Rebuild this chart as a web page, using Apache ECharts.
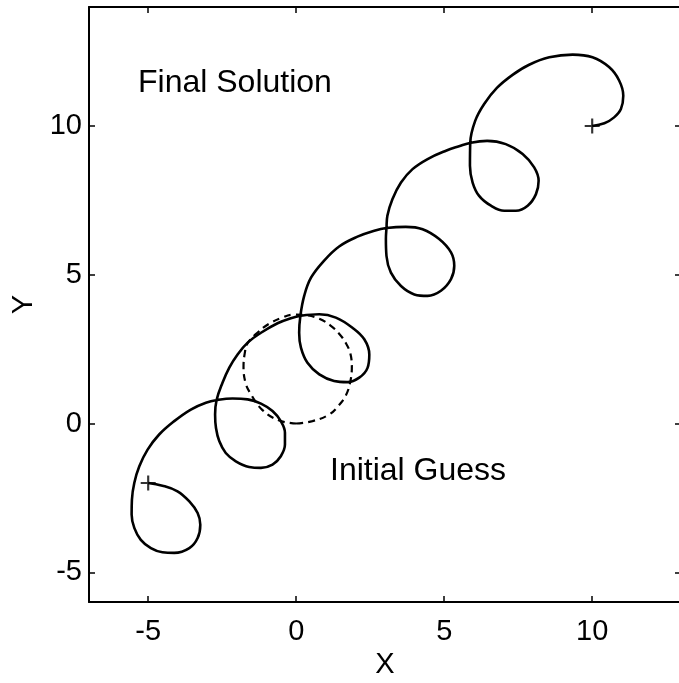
<!DOCTYPE html>
<html>
<head>
<meta charset="utf-8">
<script src="https://cdn.jsdelivr.net/npm/echarts@6/dist/echarts.min.js"></script>
<style>
html,body{margin:0;padding:0;background:#fff;}
#chart{width:679px;height:683px;}
</style>
</head>
<body>
<div id="chart"></div>
<script>
// Tick values
const xTicks = [-5, 0, 5, 10];
const yTicks = [-5, 0, 5, 10];

// Final solution trajectory
const finalX = [-5.00,-4.52,-4.01,-3.61,-3.33,-3.24,-3.33,-3.61,-4.12,-4.52,-4.91,-5.25,-5.47,-5.56,-5.55,-5.47,-5.30,-5.02,-4.63,-4.12,
  -3.56,-3.05,-2.66,-2.15,-1.64,-1.19,-0.80,-0.52,-0.38,-0.38,-0.52,-0.80,-1.19,-1.59,-2.04,-2.38,-2.60,-2.71,-2.74,-2.69,
  -2.49,-2.26,-1.98,-1.64,-1.19,-0.63,-0.18,0.16,0.78,1.34,1.90,2.30,2.47,2.41,2.13,1.73,1.28,0.78,0.38,0.16,0.10,
  0.14,0.27,0.50,0.92,1.45,2.07,2.64,3.05,3.70,4.27,4.83,5.23,5.34,5.23,4.89,4.44,3.99,3.54,3.20,3.05,
  3.03,3.05,3.08,3.25,3.54,3.93,4.44,5.06,5.50,5.90,6.45,7.08,7.65,8.04,8.19,8.10,7.82,7.42,7.03,6.58,6.18,5.96,
  5.87,5.88,6.05,6.35,6.78,7.31,7.87,8.55,9.34,10.01,10.57,10.91,11.05,10.97,10.74,10.41,10.00];
const finalY = [-2.00,-2.09,-2.28,-2.62,-3.01,-3.40,-3.85,-4.19,-4.35,-4.33,-4.19,-3.91,-3.51,-3.06,-2.56,-2.00,-1.44,-0.88,-0.37,0.08,
  0.47,0.70,0.79,0.84,0.81,0.67,0.42,0.08,-0.31,-0.71,-1.10,-1.38,-1.49,-1.46,-1.27,-0.99,-0.59,-0.15,0.30,0.79,
  1.37,1.88,2.32,2.72,3.05,3.37,3.54,3.62,3.67,3.56,3.22,2.83,2.32,1.87,1.54,1.39,1.43,1.65,2.04,2.55,3.05,
  3.61,4.29,4.90,5.45,5.95,6.28,6.48,6.57,6.61,6.53,6.20,5.75,5.30,4.85,4.46,4.29,4.34,4.62,5.07,5.63,
  6.20,6.57,6.98,7.54,8.10,8.55,8.89,9.17,9.32,9.44,9.50,9.39,9.06,8.61,8.16,7.71,7.32,7.15,7.15,7.32,7.65,8.10,
  8.66,9.44,10.18,10.74,11.28,11.72,12.06,12.31,12.40,12.31,11.98,11.53,11.02,10.57,10.29,10.09,10.00];

// Initial guess (dashed closed curve)
const guessX = [0.00,0.55,1.11,1.45,1.68,1.82,1.88,1.83,1.68,1.45,1.15,0.78,0.35,-0.10,-0.50,-0.92,-1.30,-1.64,-1.74,-1.78,-1.72,-1.57,-1.14,-0.57,0.00];
const guessY = [0.00,0.08,0.30,0.62,0.95,1.37,1.90,2.35,2.70,3.02,3.30,3.52,3.64,3.66,3.55,3.35,3.06,2.70,2.35,1.90,1.40,1.05,0.45,0.10,0.00];

// End points marked with +
const endPointsX = [-5, 10];
const endPointsY = [-2, 10];

const FONT = '"Liberation Sans", Arial, Helvetica, sans-serif';
const chart = echarts.init(document.getElementById('chart'), null, {renderer: 'canvas'});

function axisCommon(ticks, showLabel, showLine) {
  return {
    type: 'value',
    splitLine: {show: false},
    axisLine: {show: showLine, onZero: false, lineStyle: {color: '#000', width: 2}},
    axisTick: {show: true, inside: true, length: 6, customValues: ticks, lineStyle: {color: '#000', width: 1.5}},
    axisLabel: {show: showLabel, customValues: ticks, color: '#000', fontSize: 29, fontFamily: FONT}
  };
}

const xb = axisCommon(xTicks, true, true);
Object.assign(xb, {min: -7, max: 13, position: 'bottom', name: 'X', nameLocation: 'middle', nameGap: 44,
  nameTextStyle: {color: '#000', fontSize: 29, fontFamily: FONT}});
xb.axisLabel.margin = 15;
const xt = axisCommon(xTicks, false, true);
Object.assign(xt, {min: -7, max: 13, position: 'top'});
const yl = axisCommon(yTicks, true, true);
Object.assign(yl, {min: -6, max: 14, position: 'left', name: 'Y', nameLocation: 'middle', nameGap: 50, nameRotate: 90,
  nameTextStyle: {color: '#000', fontSize: 29, fontFamily: FONT}});
yl.axisLabel.margin = 7;
const yr = axisCommon(yTicks, false, false);
Object.assign(yr, {min: -6, max: 14, position: 'right'});

chart.setOption({
  animation: false,
  backgroundColor: '#fff',
  grid: {left: 89, top: 7, width: 592, height: 595, containLabel: false, outerBoundsMode: 'none'},
  xAxis: [xb, xt],
  yAxis: [yl, yr],
  series: [
    {
      type: 'line', xAxisIndex: 0, yAxisIndex: 0,
      data: finalX.map((x, i) => [x, finalY[i]]),
      showSymbol: false, smooth: 0.4,
      lineStyle: {color: '#000', width: 2.6}
    },
    {
      type: 'line', xAxisIndex: 0, yAxisIndex: 0,
      data: guessX.map((x, i) => [x, guessY[i]]),
      showSymbol: false, smooth: 0.4,
      lineStyle: {color: '#000', width: 2.2, type: [7, 5]}
    },
    {
      type: 'scatter', xAxisIndex: 0, yAxisIndex: 0,
      data: endPointsX.map((x, i) => [x, endPointsY[i]]),
      symbol: 'path://M6,0 H8 V6 H14 V8 H8 V14 H6 V8 H0 V6 H6 Z',
      symbolSize: 15,
      itemStyle: {color: '#000'}
    }
  ],
  graphic: [
    {type: 'text', style: {x: 138, y: 83, text: 'Final Solution', font: '32px ' + FONT, fill: '#000', textVerticalAlign: 'middle'}},
    {type: 'text', style: {x: 330, y: 471, text: 'Initial Guess', font: '32px ' + FONT, fill: '#000', textVerticalAlign: 'middle'}}
  ]
});
</script>
</body>
</html>
